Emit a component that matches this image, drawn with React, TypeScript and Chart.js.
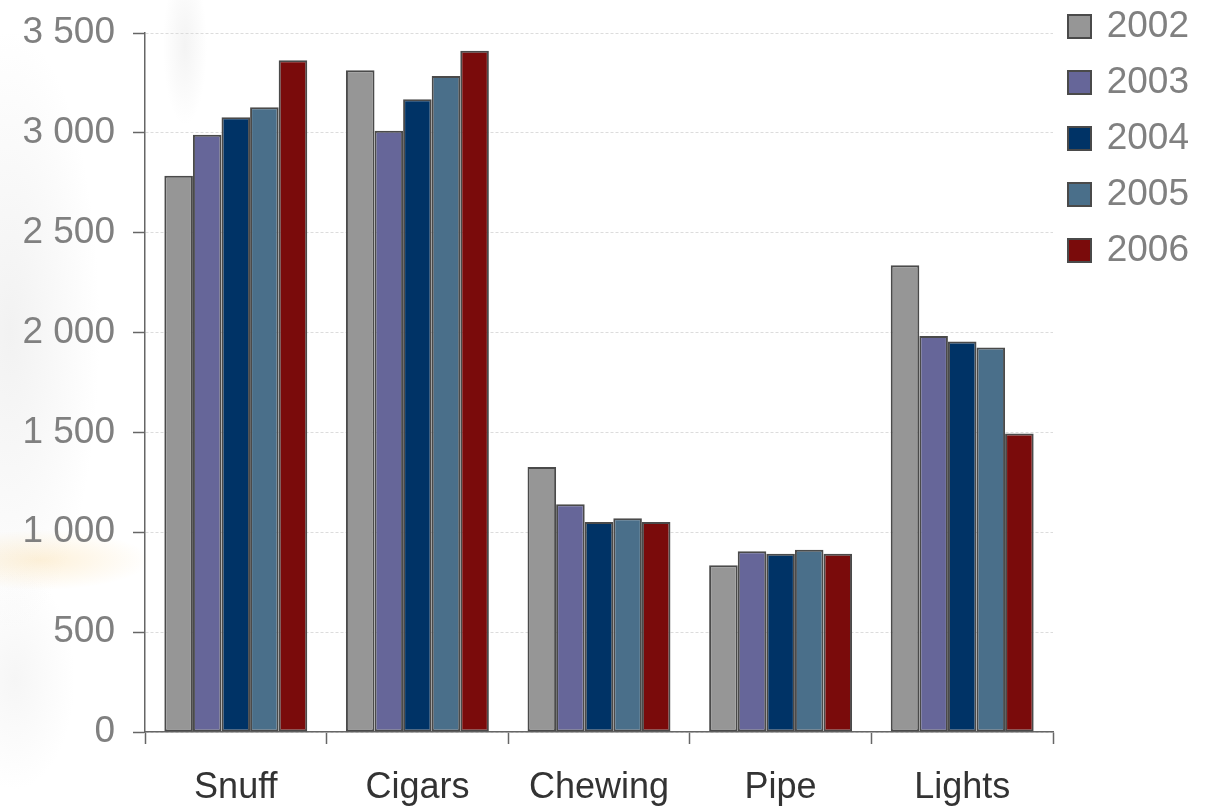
import React, { useEffect, useRef } from "react";
import { Chart, registerables } from "chart.js";

Chart.register(...registerables);

const categories = ["Snuff", "Cigars", "Chewing", "Pipe", "Lights"];
const years = ["2002", "2003", "2004", "2005", "2006"];
const v2002 = [2785, 3313, 1327, 835, 2337];
const v2003 = [2990, 3010, 1140, 905, 1983];
const v2004 = [3078, 3168, 1052, 893, 1955];
const v2005 = [3128, 3285, 1070, 913, 1925];
const v2006 = [3363, 3411, 1052, 893, 1495];
const seriesValues = [v2002, v2003, v2004, v2005, v2006];
const seriesColors = ["#969696", "#666699", "#003366", "#4a6f8a", "#7a0b0b"];
const yMin = 0;
const yMax = 3500;
const yStep = 500;

const FONT = "'Liberation Sans', Arial, sans-serif";

function formatTick(v: number): string {
  if (v >= 1000) {
    const th = Math.floor(v / 1000);
    const rest = String(v % 1000).padStart(3, "0");
    return th + "\u00a0" + rest;
  }
  return String(v);
}

export default function App() {
  const ref = useRef<HTMLCanvasElement | null>(null);

  useEffect(() => {
    if (!ref.current) return;
    const legendShift = {
      id: "legendShift",
      beforeDraw(chart: any) {
        if (chart.legend) chart.legend.left = chart.chartArea.right - 4;
      },
    };
    const chart = new Chart(ref.current, {
      type: "bar",
      data: {
        labels: categories,
        datasets: years.map((y, i) => ({
          label: y,
          data: seriesValues[i],
          backgroundColor: seriesColors[i],
          borderColor: "#4a4a4a",
          borderWidth: 2,
          borderSkipped: false,
          barPercentage: 1,
          categoryPercentage: 0.787,
        })),
      },
      options: {
        responsive: false,
        animation: false,
        layout: { padding: { top: -11, right: 16, bottom: 0, left: 0 } },
        plugins: {
          title: { display: true, text: "", padding: 0, font: { size: 44, lineHeight: 1 } },
          tooltip: { enabled: false },
          legend: {
            position: "right",
            align: "start",
            maxWidth: 136,
            labels: {
              boxWidth: 23,
              boxHeight: 23,
              padding: 19,
              color: "#808080",
              textAlign: "right",
              font: { size: 37, family: FONT },
            },
          },
        },
        scales: {
          x: {
            afterFit: (s: any) => {
              s.height = 78;
            },
            grid: {
              offset: true,
              drawOnChartArea: false,
              drawTicks: true,
              tickLength: 12,
              tickColor: "#666666",
              tickWidth: 1.5,
              color: "#666666",
            },
            border: { color: "#666666", width: 1.5 },
            ticks: {
              color: "#333333",
              padding: 22,
              font: { size: 36, family: FONT },
            },
          },
          y: {
            min: yMin,
            max: yMax,
            afterFit: (s: any) => {
              s.width = 145;
              s.paddingTop = 0;
              s.paddingBottom = 0;
            },
            grid: {
              color: "#dcdcdc",
              lineWidth: 1,
              tickLength: 12,
              tickColor: "#666666",
              tickWidth: 1.5,
              tickBorderDash: [],
            },
            border: { color: "#666666", width: 1.5, dash: [3, 2] },
            ticks: {
              stepSize: yStep,
              color: "#808080",
              padding: 18,
              font: { size: 37, family: FONT },
              callback: (v: any) => formatTick(Number(v)),
            },
          },
        },
      },
      plugins: [legendShift],
    } as any);
    return () => chart.destroy();
  }, []);

  return (
    <div
      style={{
        position: "fixed",
        left: 0,
        top: 0,
        width: 1205,
        height: 810,
        background:
          "radial-gradient(110px 30px at 40px 560px, rgba(250,205,120,0.28), rgba(250,205,120,0)), " +
          "radial-gradient(90px 300px at 10px 330px, rgba(195,195,195,0.22), rgba(195,195,195,0)), " +
          "radial-gradient(22px 80px at 185px 45px, rgba(210,210,210,0.25), rgba(210,210,210,0)), " +
          "radial-gradient(60px 110px at 15px 680px, rgba(205,205,205,0.18), rgba(205,205,205,0)), #ffffff",
      }}
    >
      <canvas ref={ref} width={1205} height={810} style={{ display: "block" }} />
    </div>
  );
}
